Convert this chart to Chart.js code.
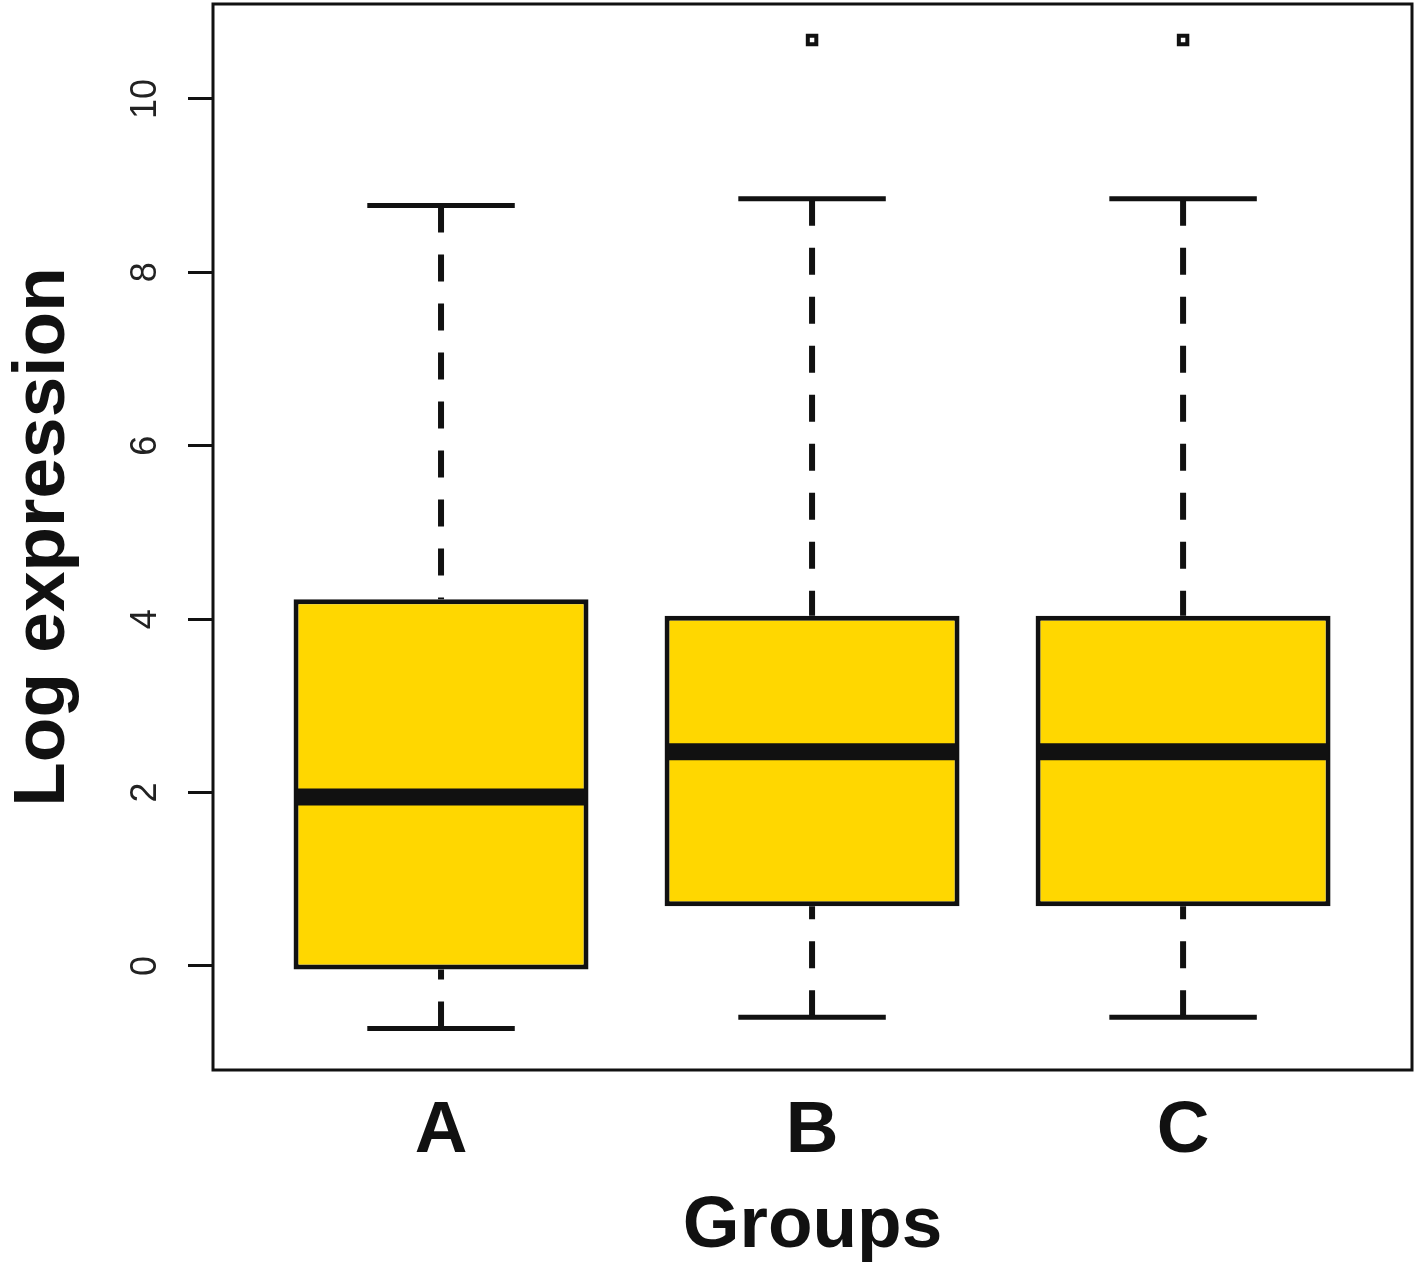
<!DOCTYPE html>
<html>
<head>
<meta charset="utf-8">
<title>Log expression by group</title>
<script src="https://cdn.jsdelivr.net/npm/chart.js@4/dist/chart.umd.min.js"></script>
<style>
  body { margin: 0; background: #fff; }
  #wrap { width: 1418px; height: 1267px; }
</style>
</head>
<body>
<div id="wrap"><canvas id="boxChart"></canvas></div>
<script>
const groups = ['A', 'B', 'C'];
const lowerWhisker = [-0.72, -0.59, -0.59];
const q1 = [-0.04, 0.69, 0.69];
const median = [1.95, 2.47, 2.47];
const q3 = [4.23, 4.04, 4.04];
const upperWhisker = [8.77, 8.85, 8.85];
const outliers = [[], [10.68], [10.68]];
const yTicks = [0, 2, 4, 6, 8, 10];

const FONT = "'Liberation Sans', Arial, sans-serif";
const INK = '#111';

const positions = groups.map((g, i) => i + 1);
const boxData = positions.map((x, i) => ({ x: x, y: [q1[i], q3[i]] }));
const outlierData = [];
outliers.forEach((list, i) => list.forEach(v => outlierData.push({ x: positions[i], y: v })));

// whiskers, caps, medians, frame and rotated y labels
const boxExtras = {
    id: 'boxExtras',
    afterDatasetsDraw(chart) {
        const { ctx, scales: { x, y } } = chart;
        const meta = chart.getDatasetMeta(0);
        ctx.save();
        ctx.strokeStyle = INK;
        ctx.lineCap = 'butt';
        meta.data.forEach((bar, i) => {
            const cx = x.getPixelForValue(positions[i]);
            const half = bar.width / 2;
            // dashed whiskers, drawn from the cap towards the box
            ctx.lineWidth = 6;
            ctx.setLineDash([27, 22]);
            ctx.beginPath();
            ctx.moveTo(cx, y.getPixelForValue(upperWhisker[i]));
            ctx.lineTo(cx, y.getPixelForValue(q3[i]));
            ctx.stroke();
            ctx.beginPath();
            ctx.moveTo(cx, y.getPixelForValue(lowerWhisker[i]));
            ctx.lineTo(cx, y.getPixelForValue(q1[i]));
            ctx.stroke();
            ctx.setLineDash([]);
            // caps
            ctx.lineWidth = 5;
            ctx.beginPath();
            const capHalf = half / 2;
            [upperWhisker[i], lowerWhisker[i]].forEach(v => {
                const py = y.getPixelForValue(v);
                ctx.moveTo(cx - capHalf, py);
                ctx.lineTo(cx + capHalf, py);
            });
            ctx.stroke();
            // median
            ctx.lineWidth = 17;
            ctx.beginPath();
            const my = y.getPixelForValue(median[i]);
            ctx.moveTo(cx - half + 2, my);
            ctx.lineTo(cx + half - 2, my);
            ctx.stroke();
        });
        ctx.restore();
    },
    afterDraw(chart) {
        const { ctx, chartArea, scales: { y } } = chart;
        ctx.save();
        ctx.strokeStyle = INK;
        ctx.lineWidth = 3;
        ctx.strokeRect(chartArea.left, chartArea.top, chartArea.right - chartArea.left, chartArea.bottom - chartArea.top);
        ctx.fillStyle = '#222';
        ctx.font = '36px ' + FONT;
        ctx.textAlign = 'center';
        ctx.textBaseline = 'middle';
        yTicks.forEach(t => {
            ctx.save();
            ctx.translate(146, y.getPixelForValue(t));
            ctx.rotate(-Math.PI / 2);
            ctx.fillText(String(t), 0, 0);
            ctx.restore();
        });
        ctx.restore();
    }
};

new Chart(document.getElementById('boxChart'), {
    type: 'bar',
    data: {
        datasets: [{
            label: 'Box',
            data: boxData,
            backgroundColor: '#FFD700',
            borderColor: INK,
            borderWidth: 5,
            borderSkipped: false,
            categoryPercentage: 1,
            barPercentage: 0.795
        }, {
            type: 'scatter',
            label: 'Outliers',
            data: outlierData,
            pointStyle: 'rect',
            pointRadius: 6,
            borderWidth: 4,
            borderColor: INK,
            backgroundColor: '#fff'
        }]
    },
    options: {
        responsive: true,
        maintainAspectRatio: false,
        animation: false,
        layout: { autoPadding: false, padding: { top: 4, right: 6, left: 0, bottom: 0 } },
        plugins: {
            legend: { display: false },
            tooltip: { enabled: false }
        },
        scales: {
            x: {
                type: 'linear',
                offset: false,
                min: 0.3854,
                max: 3.617,
                afterBuildTicks: scale => { scale.ticks = positions.map(v => ({ value: v })); },
                afterFit: scale => { scale.height = 197; },
                grid: { display: false },
                border: { display: false },
                ticks: {
                    padding: 10,
                    color: INK,
                    font: { family: FONT, size: 73, weight: 'bold' },
                    callback: v => groups[v - 1] || ''
                },
                title: {
                    display: true,
                    text: 'Groups',
                    color: INK,
                    padding: { top: 0, bottom: -4 },
                    font: { family: FONT, size: 73, weight: 'bold' }
                }
            },
            y: {
                min: -1.1995,
                max: 11.095,
                afterBuildTicks: scale => { scale.ticks = yTicks.map(v => ({ value: v })); },
                afterFit: scale => { scale.width = 213; },
                grid: {
                    drawOnChartArea: false,
                    drawTicks: true,
                    tickLength: 25,
                    lineWidth: 3,
                    color: INK
                },
                border: { display: false },
                ticks: { display: false },
                title: {
                    display: true,
                    text: 'Log expression',
                    color: INK,
                    padding: 0,
                    font: { family: FONT, size: 73, weight: 'bold' }
                }
            }
        }
    },
    plugins: [boxExtras]
});
</script>
</body>
</html>
